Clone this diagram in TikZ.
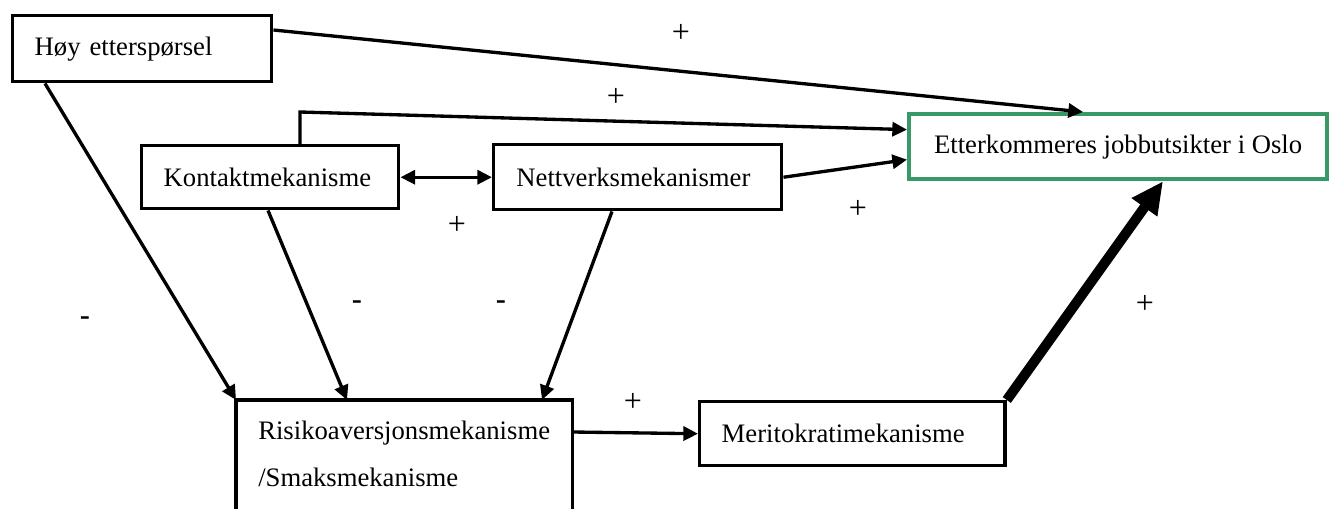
\documentclass[tikz,border=0pt]{standalone}
\usepackage{fontspec}
\setmainfont{Liberation Serif}
\newfontfamily\dashfont{Liberation Sans}
\usetikzlibrary{arrows.meta,calc}
\definecolor{boxgreen}{RGB}{56,152,102}
\begin{document}
\begin{tikzpicture}[x=0.75pt,y=-0.75pt,
  box/.style={draw=black,line width=2.6pt,rectangle,inner ysep=0pt,font=\fontsize{20}{24}\selectfont},
  conn/.style={line width=2.5pt,-{Triangle[length=11pt,width=10.5pt]}},
  thickconn/.style={line width=7.5pt,-{Triangle[length=24pt,width=22pt]}},
  plus/.style={font=\fontsize{24}{24}\selectfont,inner sep=0pt},
  minus/.style={font=\dashfont\fontsize{24}{24}\selectfont,inner sep=0pt}]
\clip (0,0) rectangle (1333,509);
\fill[white] (0,0) rectangle (1333,509);
% boxes
\node[box,anchor=north west,minimum width=194.25pt,minimum height=49.5pt,text width=161.25pt,inner xsep=16.5pt,align=left] (hoy) at (11,14) {Høy etterspørsel};
\node[box,anchor=north west,minimum width=192.75pt,minimum height=47.25pt,text width=159.75pt,inner xsep=16.5pt,align=left] (kont) at (140,144) {Kontaktmekanisme};
\node[box,anchor=north west,minimum width=216pt,minimum height=48.75pt,text width=182pt,inner xsep=17pt,align=left] (nett) at (492,143) {Nettverksmekanismer};
\node[box,draw=boxgreen,line width=3.2pt,anchor=north west,minimum width=313.5pt,minimum height=48.75pt] (etterk) at (907,112) {Etterkommeres jobbutsikter i Oslo};
\node[box,anchor=north west,minimum width=228.75pt,minimum height=48pt,text width=196pt,inner xsep=16.5pt,align=left] (merit) at (698,400) {Meritokratimekanisme};
\node[anchor=north west,minimum width=252pt,minimum height=80.25pt,text width=219pt,inner xsep=16.5pt,inner ysep=0pt,align=left,font=\fontsize{20}{35.25}\selectfont] (risk) at (236,400) {Risikoaversjonsmekanisme\\/Smaksmekanisme};
\draw[line width=2.6pt] ([yshift=-30pt]risk.south west) -- (risk.north west) -- (risk.north east) -- ([yshift=-30pt]risk.south east);
% connectors
\draw[conn] ($(hoy.north east)+(0,16)$) -- ($(etterk.north west)+(176,0)$);
\draw[conn] ($(hoy.south west)+(34,0)$) -- (risk.north west);
\coordinate (kup) at ($(kont.north west)+(160,-32)$);
\draw[conn] ($(kont.north west)+(160,0)$) -- (kup) -- ($(etterk.west)+(0,-17)$);
\draw[conn] (nett.east) -- ($(etterk.west)+(0,13)$);
\draw[line width=2.5pt,{Triangle[length=11pt,width=10.5pt]}-{Triangle[length=11pt,width=10.5pt]}] (kont.east) -- (nett.west);
\draw[conn] ($(kont.south west)+(128,0)$) -- ($(risk.north west)+(111,0)$);
\draw[conn] ($(nett.south west)+(120,0)$) -- ($(risk.north west)+(306,0)$);
\draw[conn] ($(risk.north east)+(0,32)$) -- (merit.west);
\draw[thickconn] (merit.north east) -- ($(etterk.south west)+(256,0)$);
% labels
\node[plus] (p1) at (681,33) {+};
\node[plus] (p2) at (616,97) {+};
\node[plus] (p3) at (457,225) {+};
\node[plus] (p4) at (858,209) {+};
\node[plus] (p5) at (1145,304) {+};
\node[plus] (p6) at (633,402) {+};
\node[minus] (m1) at (85,322) {-};
\node[minus] (m2) at (357,306) {-};
\node[minus] (m3) at (501,306) {-};
\end{tikzpicture}
\end{document}
